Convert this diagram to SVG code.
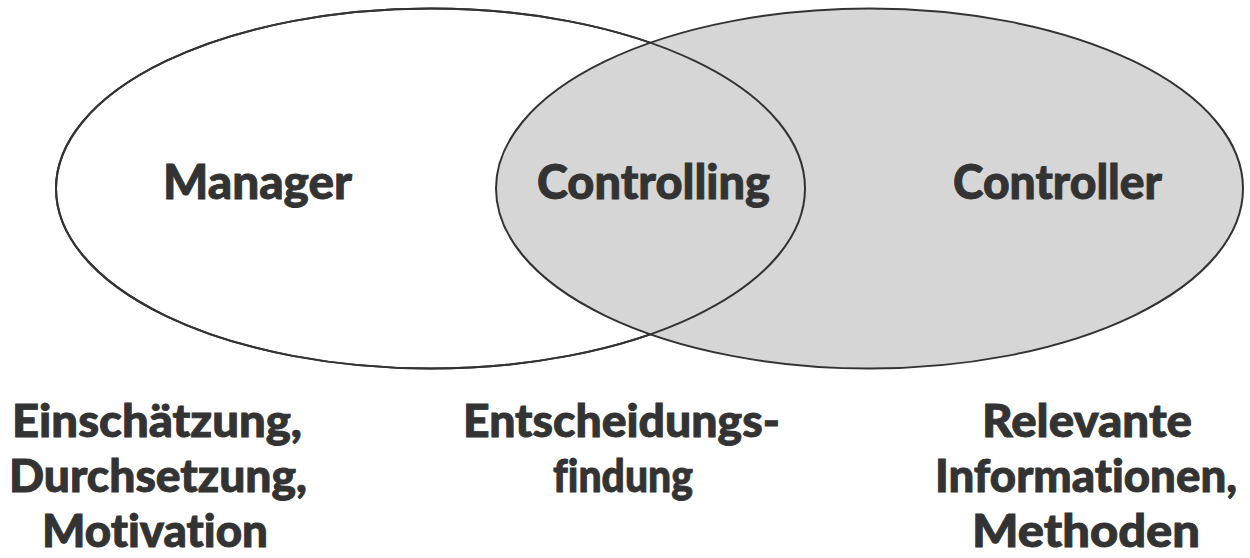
<svg xmlns="http://www.w3.org/2000/svg" width="1250" height="558" viewBox="0 0 1250 558">
<style>
.ell{stroke:#333;stroke-width:2}
.t{font-family:Lato,"Liberation Sans",sans-serif;font-weight:900;fill:#333;stroke:#333;stroke-width:0.9;text-anchor:middle;font-variant-ligatures:none}
.big{font-size:48px}
.lbl{font-size:45px}
</style>
<rect width="1250" height="558" fill="#fff"/>
<g id="manager">
<ellipse cx="430.5" cy="188.5" rx="374.5" ry="180" fill="#fff" class="ell"/>
</g>
<g id="controller">
<ellipse cx="869.5" cy="188.5" rx="373.5" ry="180" fill="#d6d6d6" class="ell"/>
<text class="t big" x="1057.5" y="199" textLength="209" lengthAdjust="spacingAndGlyphs">Controller</text>
</g>
<g id="manager-outline">
<ellipse cx="430.5" cy="188.5" rx="374.5" ry="180" fill="none" class="ell"/>
<text class="t big" x="257.5" y="199" textLength="189" lengthAdjust="spacingAndGlyphs">Manager</text>
</g>
<g id="controlling">
<text class="t big" x="653.5" y="199" textLength="233" lengthAdjust="spacingAndGlyphs">Controlling</text>
</g>
<g id="label-manager">
<text class="t lbl" x="157" y="437" textLength="290" lengthAdjust="spacingAndGlyphs">Einschätzung,</text>
<text class="t lbl" x="158" y="492" textLength="298" lengthAdjust="spacingAndGlyphs">Durchsetzung,</text>
<text class="t lbl" x="155" y="547" textLength="226" lengthAdjust="spacingAndGlyphs">Motivation</text>
</g>
<g id="label-controlling">
<text class="t lbl" x="621.5" y="437" textLength="317" lengthAdjust="spacingAndGlyphs">Entscheidungs-</text>
<text class="t lbl" x="623" y="492" textLength="140" lengthAdjust="spacingAndGlyphs">findung</text>
</g>
<g id="label-controller">
<text class="t lbl" x="1087" y="437" textLength="210" lengthAdjust="spacingAndGlyphs">Relevante</text>
<text class="t lbl" x="1086" y="492" textLength="302" lengthAdjust="spacingAndGlyphs">Informationen,</text>
<text class="t lbl" x="1086" y="547" textLength="228" lengthAdjust="spacingAndGlyphs">Methoden</text>
</g>
<g id="connectors"/>
</svg>
